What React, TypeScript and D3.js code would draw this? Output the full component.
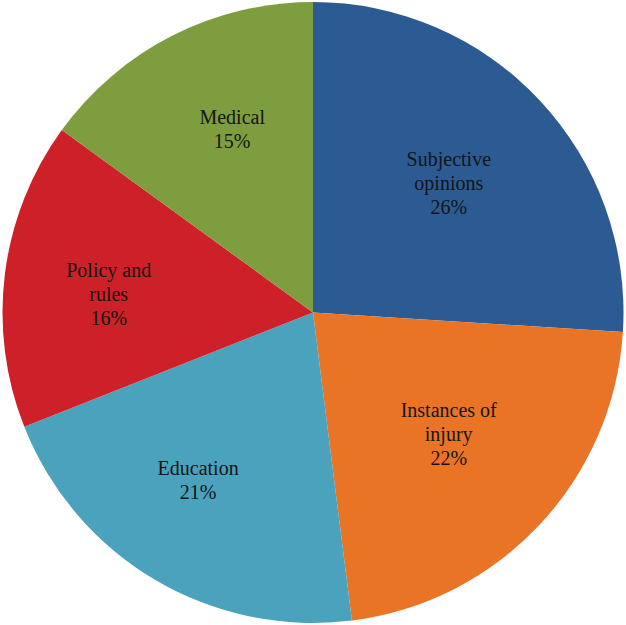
import * as d3 from "d3";

const categories = ["Subjective opinions", "Instances of injury", "Education", "Policy and rules", "Medical"];
const labelLines = [["Subjective", "opinions"], ["Instances of", "injury"], ["Education"], ["Policy and", "rules"], ["Medical"]];
const shares = [26, 22, 21, 16, 15];
const colors = ["#2b5b92", "#ea7426", "#4aa2bd", "#cd2028", "#7e9d3e"];
// label placement: share of radius, and a small turn (degrees) off the slice middle
const labelRadius = [0.6, 0.59, 0.66, 0.66, 0.64];
const labelTurn = [0, -1, 3.5, -2.7, 3];

const width = 626;
const height = 625;
const cx = 313;
const cy = 312.5;
const radius = 310.5;

export default function App() {
  const data = categories.map((c, i) => ({ name: c, value: shares[i], lines: labelLines[i], color: colors[i] }));
  const pie = d3.pie<(typeof data)[number]>().value((d) => d.value).sort(null);
  const arcs = pie(data);
  const arc = d3.arc<d3.PieArcDatum<(typeof data)[number]>>().innerRadius(0).outerRadius(radius);
  const lineH = 24;

  return (
    <svg width={width} height={height} style={{ position: "absolute", left: 0, top: 0, background: "#fff" }}>
      <g transform={`translate(${cx},${cy})`}>
        {arcs.map((a, i) => (
          <path key={i} d={arc(a) ?? ""} fill={a.data.color} />
        ))}
        {arcs.map((a, i) => {
          const lr = radius * labelRadius[i];
          const mid = (a.startAngle + a.endAngle) / 2 + (labelTurn[i] * Math.PI) / 180;
          const lx = lr * Math.sin(mid);
          const ly = -lr * Math.cos(mid);
          const lines = [...a.data.lines, `${a.data.value}%`];
          const y0 = ly - ((lines.length - 1) * lineH) / 2;
          return (
            <text
              key={i}
              x={lx}
              y={y0}
              textAnchor="middle"
              dominantBaseline="middle"
              style={{ fontFamily: "'Times New Roman', 'Liberation Serif', Times, serif", fontSize: 20 }}
              fill="#141414"
            >
              {lines.map((l, j) => (
                <tspan key={j} x={lx} y={y0 + j * lineH}>
                  {l}
                </tspan>
              ))}
            </text>
          );
        })}
      </g>
    </svg>
  );
}
